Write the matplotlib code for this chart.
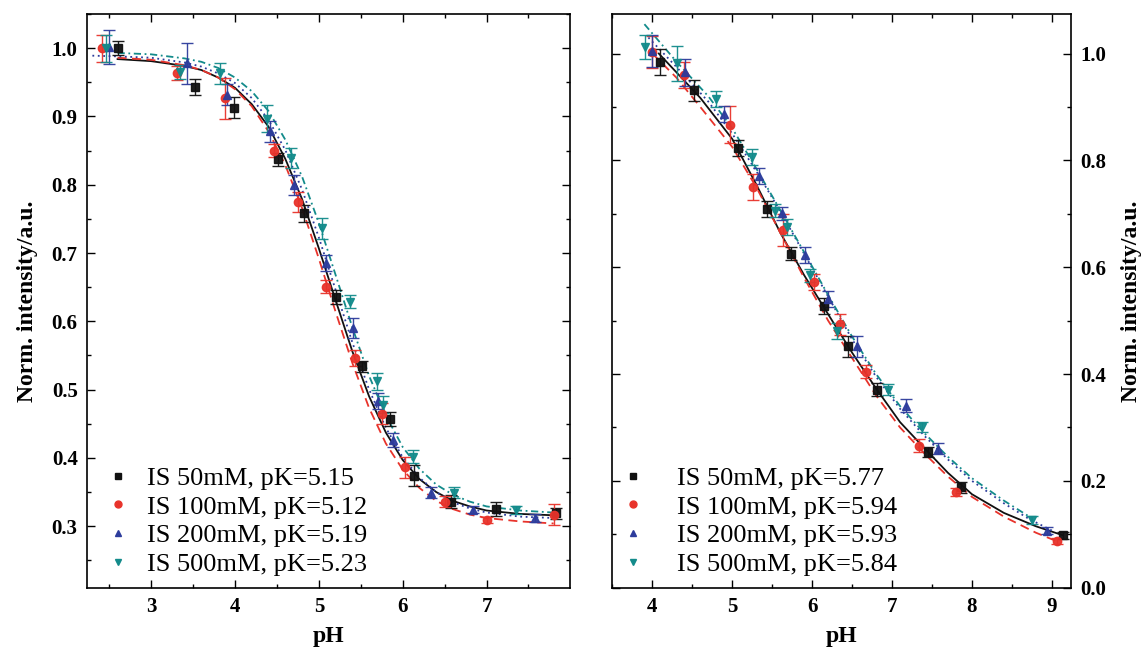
import matplotlib
matplotlib.use('Agg')
import matplotlib.pyplot as plt
from matplotlib.lines import Line2D
from matplotlib.ticker import MultipleLocator

plt.rcParams['font.family'] = ['Liberation Serif', 'DejaVu Serif']
plt.rcParams['mathtext.fontset'] = 'stix'

# ---------------- left panel data ----------------
l_k_x = [2.60, 3.52, 3.99, 4.51, 4.82, 5.20, 5.51, 5.85, 6.14, 6.58, 7.11, 7.83]
l_k_y = [1.000, 0.943, 0.913, 0.837, 0.758, 0.636, 0.534, 0.457, 0.374, 0.336, 0.325, 0.319]
l_k_e = [0.010, 0.012, 0.015, 0.010, 0.012, 0.010, 0.008, 0.010, 0.015, 0.010, 0.010, 0.008]

l_r_x = [2.41, 3.31, 3.88, 4.46, 4.75, 5.09, 5.43, 5.75, 6.03, 6.50, 7.01, 7.80]
l_r_y = [1.000, 0.964, 0.927, 0.850, 0.775, 0.651, 0.546, 0.465, 0.386, 0.336, 0.309, 0.317]
l_r_e = [0.020, 0.010, 0.030, 0.010, 0.015, 0.010, 0.012, 0.015, 0.015, 0.008, 0.005, 0.015]

l_b_x = [2.50, 3.43, 3.90, 4.42, 4.71, 5.08, 5.41, 5.71, 5.89, 6.34, 6.84, 7.58]
l_b_y = [1.002, 0.978, 0.932, 0.878, 0.800, 0.685, 0.590, 0.483, 0.426, 0.349, 0.324, 0.312]
l_b_e = [0.025, 0.030, 0.015, 0.015, 0.015, 0.012, 0.015, 0.012, 0.010, 0.008, 0.005, 0.006]

l_t_x = [2.46, 3.34, 3.82, 4.38, 4.67, 5.04, 5.37, 5.69, 5.76, 6.12, 6.61, 7.35]
l_t_y = [1.000, 0.965, 0.963, 0.897, 0.839, 0.736, 0.629, 0.512, 0.478, 0.402, 0.349, 0.324]
l_t_e = [0.020, 0.010, 0.015, 0.020, 0.015, 0.015, 0.010, 0.012, 0.012, 0.010, 0.008, 0.006]

# fit curves
l_fit_x = [2.6, 3.0, 3.4, 3.6, 3.8, 4.0, 4.2, 4.4, 4.6, 4.8, 5.0, 5.2, 5.4, 5.6, 5.8,
           6.0, 6.2, 6.4, 6.6, 6.8, 7.0, 7.4, 7.8]
l_fit_k = [0.984, 0.981, 0.974, 0.968, 0.957, 0.942, 0.918, 0.885, 0.838, 0.779, 0.707, 0.631,
           0.556, 0.490, 0.437, 0.397, 0.369, 0.350, 0.337, 0.329, 0.323, 0.318, 0.316]
l_fit_r = [0.986, 0.983, 0.975, 0.968, 0.957, 0.940, 0.915, 0.878, 0.829, 0.766, 0.692, 0.614,
           0.539, 0.473, 0.421, 0.383, 0.356, 0.337, 0.325, 0.317, 0.312, 0.307, 0.304]
l_fit_b_x = [2.3, 2.6, 3.0, 3.4, 3.6, 3.8, 4.0, 4.2, 4.4, 4.6, 4.8, 5.0, 5.2, 5.4, 5.6, 5.8,
             6.0, 6.2, 6.4, 6.6, 6.8, 7.0, 7.4, 7.8]
l_fit_b = [0.989, 0.988, 0.986, 0.979, 0.973, 0.963, 0.949, 0.927, 0.895, 0.851, 0.793, 0.723,
           0.646, 0.569, 0.500, 0.444, 0.401, 0.371, 0.350, 0.335, 0.326, 0.320, 0.314, 0.312]
l_fit_t = [0.993, 0.991, 0.985, 0.980, 0.971, 0.957, 0.937, 0.908, 0.866, 0.812, 0.744, 0.668,
           0.591, 0.520, 0.462, 0.416, 0.384, 0.361, 0.346, 0.336, 0.329, 0.323, 0.320]

# ---------------- right panel data ----------------
r_k_x = [4.10, 4.52, 5.07, 5.44, 5.73, 6.15, 6.45, 6.81, 7.45, 7.86, 9.14]
r_k_y = [0.984, 0.931, 0.823, 0.709, 0.625, 0.527, 0.452, 0.371, 0.254, 0.188, 0.098]
r_k_e = [0.025, 0.020, 0.015, 0.015, 0.012, 0.015, 0.020, 0.012, 0.010, 0.010, 0.006]

r_r_x = [3.99, 4.40, 4.97, 5.26, 5.63, 6.02, 6.35, 6.67, 7.34, 7.80, 9.06]
r_r_y = [1.002, 0.960, 0.867, 0.750, 0.669, 0.572, 0.493, 0.404, 0.266, 0.179, 0.087]
r_r_e = [0.030, 0.025, 0.035, 0.025, 0.030, 0.015, 0.020, 0.012, 0.012, 0.008, 0.006]

r_b_x = [3.99, 4.41, 4.90, 5.34, 5.62, 5.91, 6.20, 6.56, 7.18, 7.58, 8.94]
r_b_y = [1.004, 0.965, 0.886, 0.770, 0.701, 0.622, 0.541, 0.452, 0.341, 0.260, 0.107]
r_b_e = [0.030, 0.025, 0.015, 0.015, 0.012, 0.015, 0.015, 0.020, 0.012, 0.010, 0.006]

r_t_x = [3.91, 4.31, 4.80, 5.25, 5.54, 5.68, 5.97, 6.31, 6.95, 7.37, 8.75]
r_t_y = [1.012, 0.982, 0.914, 0.807, 0.706, 0.676, 0.585, 0.480, 0.371, 0.301, 0.127]
r_t_e = [0.023, 0.033, 0.015, 0.015, 0.012, 0.015, 0.012, 0.015, 0.010, 0.010, 0.008]

r_fit_k_x = [4.08, 4.3, 4.6, 5.0, 5.3, 5.6, 5.9, 6.2, 6.5, 6.8, 7.1, 7.4, 7.7, 8.0, 8.4, 8.8, 9.14]
r_fit_k_y = [1.000, 0.965, 0.917, 0.840, 0.755, 0.665, 0.585, 0.512, 0.440, 0.373, 0.310, 0.262, 0.215, 0.175, 0.140, 0.115, 0.098]
r_fit_r_x = [4.00, 4.3, 4.6, 5.0, 5.3, 5.6, 5.9, 6.2, 6.5, 6.8, 7.1, 7.4, 7.7, 8.0, 8.4, 8.8, 9.06]
r_fit_r_y = [1.000, 0.955, 0.900, 0.825, 0.750, 0.665, 0.580, 0.500, 0.430, 0.360, 0.300, 0.252, 0.208, 0.170, 0.133, 0.103, 0.087]
r_fit_b_x = [3.95, 4.3, 4.7, 5.0, 5.3, 5.6, 5.9, 6.2, 6.5, 6.8, 7.1, 7.4, 7.7, 8.0, 8.4, 8.7, 9.0]
r_fit_b_y = [1.030, 0.975, 0.910, 0.850, 0.780, 0.705, 0.625, 0.545, 0.465, 0.395, 0.335, 0.285, 0.240, 0.200, 0.158, 0.130, 0.107]
r_fit_t_x = [3.90, 4.3, 4.7, 5.0, 5.3, 5.6, 5.9, 6.2, 6.5, 6.8, 7.1, 7.4, 7.7, 8.0, 8.4, 8.75]
r_fit_t_y = [1.055, 0.985, 0.920, 0.860, 0.785, 0.707, 0.628, 0.548, 0.470, 0.400, 0.340, 0.290, 0.245, 0.205, 0.163, 0.130]

left_labels = ['IS 50mM, pK=5.15', 'IS 100mM, pK=5.12', 'IS 200mM, pK=5.19', 'IS 500mM, pK=5.23']
right_labels = ['IS 50mM, pK=5.77', 'IS 100mM, pK=5.94', 'IS 200mM, pK=5.93', 'IS 500mM, pK=5.84']
left_xticks = [3, 4, 5, 6, 7]
right_xticks = [4, 5, 6, 7, 8, 9]

colors = ['#111111', '#e8332b', '#2d3c9c', '#138b8b']
markers = ['s', 'o', '^', 'v']
lstyles = ['-', (0, (5, 3)), (0, (1, 2)), (0, (4, 2, 1, 2))]


def style_axis(ax, xticks, ymaj, ymin):
    ax.set_xticks(xticks)
    ax.xaxis.set_minor_locator(MultipleLocator(0.5))
    ax.yaxis.set_major_locator(MultipleLocator(ymaj))
    ax.yaxis.set_minor_locator(MultipleLocator(ymin))
    ax.tick_params(which='both', direction='in', top=True, right=True, width=1.0)
    ax.tick_params(which='major', length=5.5, labelsize=15, pad=7)
    ax.tick_params(which='minor', length=3)
    for lab in ax.get_xticklabels() + ax.get_yticklabels():
        lab.set_fontweight('bold')
    for sp in ax.spines.values():
        sp.set_linewidth(1.2)
    ax.set_xlabel('pH', fontsize=17, fontweight='bold', labelpad=6)


def draw_panel(ax, pts, fits, labels, handle_x, textpad):
    for i, (x, y, e) in enumerate(pts):
        ax.errorbar(x, y, yerr=e, fmt=markers[i], color=colors[i], ms=6,
                    elinewidth=1.0, capsize=4, capthick=1.0, alpha=0.95, zorder=3)
    for i, (fx, fy) in enumerate(fits):
        ax.plot(fx, fy, color=colors[i], ls=lstyles[i], lw=1.3, zorder=2)
    handles = [Line2D([], [], ls='none', marker=markers[i], color=colors[i], ms=5)
               for i in range(4)]
    ax.legend(handles, labels, loc='lower left', bbox_to_anchor=(handle_x, 0.02),
              frameon=False, fontsize=19, handlelength=1.0, handletextpad=textpad,
              labelspacing=0.2, borderpad=0, borderaxespad=0)


fig = plt.figure(figsize=(11.42, 6.49), dpi=100)
ax1 = fig.add_axes([0.0765, 0.0945, 0.4226, 0.8839])
ax2 = fig.add_axes([0.5356, 0.0945, 0.4022, 0.8839])

draw_panel(ax1,
           [(l_k_x, l_k_y, l_k_e), (l_r_x, l_r_y, l_r_e), (l_b_x, l_b_y, l_b_e), (l_t_x, l_t_y, l_t_e)],
           [(l_fit_x, l_fit_k), (l_fit_x, l_fit_r), (l_fit_b_x, l_fit_b), (l_fit_x, l_fit_t)],
           left_labels, 0.037, 0.6)
ax1.set_xlim(2.24, 7.995)
ax1.set_ylim(0.21, 1.05)
style_axis(ax1, left_xticks, 0.1, 0.05)
ax1.set_ylabel('Norm. intensity/a.u.', fontsize=17, fontweight='bold', labelpad=10)

draw_panel(ax2,
           [(r_k_x, r_k_y, r_k_e), (r_r_x, r_r_y, r_r_e), (r_b_x, r_b_y, r_b_e), (r_t_x, r_t_y, r_t_e)],
           [(r_fit_k_x, r_fit_k_y), (r_fit_r_x, r_fit_r_y), (r_fit_b_x, r_fit_b_y), (r_fit_t_x, r_fit_t_y)],
           right_labels, 0.018, 1.15)
ax2.set_xlim(3.49, 9.24)
ax2.set_ylim(0.0, 1.074)
style_axis(ax2, right_xticks, 0.2, 0.1)
ax2.tick_params(labelleft=False, labelright=True)
ax2.yaxis.set_label_position('right')
ax2.set_ylabel('Norm. intensity/a.u.', fontsize=17, fontweight='bold', labelpad=10,
               rotation=90)
for lab in ax2.get_yticklabels():
    lab.set_fontweight('bold')

fig.savefig('out.png', dpi=100)
